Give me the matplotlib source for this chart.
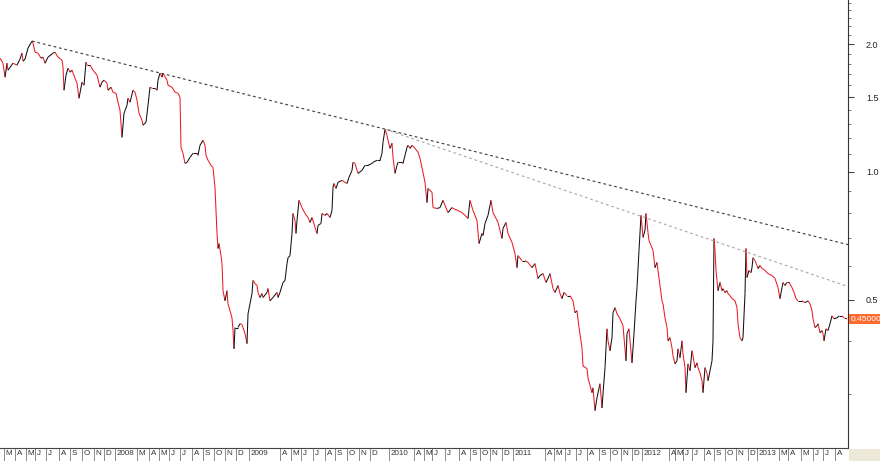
import matplotlib
matplotlib.use("Agg")
import matplotlib.pyplot as plt
from matplotlib.collections import LineCollection
from matplotlib.patches import Rectangle
import numpy as np

plt.rcParams["font.family"] = ["Liberation Sans", "DejaVu Sans"]

# bar index (trading-day axis) and close price
bar = [0, 3, 5, 7, 8, 13, 17, 20, 22, 23, 25, 28, 32, 33, 35, 38, 41, 43, 45, 48,
       53, 55, 58, 62, 63, 64, 66, 68, 70, 72, 75, 77, 79, 82, 84, 86, 87, 90, 93, 97,
       100, 102, 104, 107, 108, 111, 113, 116, 118, 120, 122, 124, 127, 128, 130, 133, 135, 137, 139, 142,
       143, 146, 148, 150, 152, 155, 157, 158, 160, 162, 163, 167, 168, 172, 175, 178, 180, 181, 183, 185,
       187, 190, 193, 197, 198, 200, 203, 205, 206, 208, 211, 213, 215, 217, 218, 219, 221, 222, 223, 225,
       227, 228, 230, 232, 233, 234, 235, 238, 240, 242, 243, 245, 247, 248, 250, 252, 253, 255, 257, 258,
       260, 262, 263, 267, 268, 270, 273, 277, 278, 280, 283, 285, 287, 288, 290, 292, 293, 295, 296, 297,
       299, 302, 305, 308, 310, 312, 315, 317, 318, 321, 322, 325, 327, 330, 332, 333, 334, 336, 338, 342,
       345, 347, 349, 352, 353, 355, 357, 358, 362, 365, 368, 372, 373, 377, 380, 382, 383, 385, 387, 388,
       390, 392, 393, 395, 397, 398, 402, 403, 405, 407, 408, 410, 412, 415, 418, 420, 423, 425, 427, 428,
       432, 433, 437, 440, 443, 445, 448, 452, 455, 458, 462, 465, 468, 470, 473, 477, 479, 482, 483, 485,
       488, 491, 493, 496, 498, 502, 503, 506, 508, 512, 515, 517, 518, 522, 525, 528, 532, 535, 538, 540,
       543, 546, 548, 550, 553, 555, 558, 560, 562, 564, 567, 570, 573, 575, 577, 579, 582, 583, 587, 588,
       592, 593, 595, 597, 600, 602, 603, 605, 607, 608, 610, 612, 613, 615, 617, 620, 623, 626, 627, 629,
       632, 634, 636, 637, 639, 641, 643, 645, 646, 648, 649, 651, 653, 655, 657, 658, 662, 663, 665, 667,
       668, 670, 672, 673, 675, 677, 678, 680, 682, 683, 685, 686, 688, 690, 692, 693, 695, 697, 698, 700,
       702, 703, 705, 707, 708, 710, 712, 713, 714, 715, 716, 717, 718, 720, 722, 723, 725, 727, 728, 730,
       732, 735, 737, 738, 740, 742, 743, 745, 746, 747, 749, 751, 752, 753, 755, 757, 758, 760, 762, 765,
       768, 772, 775, 778, 780, 782, 783, 785, 787, 789, 792, 794, 796, 798, 802, 805, 808, 810, 812, 813,
       815, 817, 818, 820, 822, 823, 824, 826, 828, 830, 832, 834, 837, 839, 842, 844, 846, 847]

close = [1.853, 1.803, 1.671, 1.803, 1.736, 1.803, 1.784, 1.843, 1.904, 1.823, 1.843, 1.957, 2.033, 2.010, 1.914, 1.904, 1.853, 1.863, 1.803, 1.863,
         1.904, 1.914, 1.863, 1.833, 1.765, 1.557, 1.690, 1.755, 1.717, 1.736, 1.662, 1.618, 1.491, 1.626, 1.600, 1.813, 1.784, 1.784, 1.736, 1.690,
         1.583, 1.626, 1.644, 1.618, 1.557, 1.583, 1.540, 1.532, 1.459, 1.397, 1.206, 1.374, 1.435, 1.491, 1.459, 1.557, 1.540, 1.475, 1.374, 1.323,
         1.288, 1.309, 1.435, 1.583, 1.574, 1.574, 1.557, 1.644, 1.708, 1.671, 1.708, 1.644, 1.600, 1.583, 1.540, 1.532, 1.499, 1.142, 1.106, 1.047,
         1.053, 1.082, 1.106, 1.106, 1.094, 1.155, 1.187, 1.155, 1.094, 1.065, 1.036, 1.025, 0.919, 0.716, 0.660, 0.678, 0.635, 0.608, 0.525, 0.497,
         0.525, 0.489, 0.471, 0.453, 0.423, 0.383, 0.430, 0.430, 0.439, 0.437, 0.430, 0.416, 0.394, 0.463, 0.489, 0.517, 0.555, 0.546, 0.540, 0.520,
         0.506, 0.517, 0.506, 0.520, 0.531, 0.497, 0.506, 0.520, 0.506, 0.520, 0.549, 0.555, 0.608, 0.628, 0.635, 0.716, 0.798, 0.768, 0.716, 0.768,
         0.857, 0.824, 0.798, 0.781, 0.760, 0.781, 0.740, 0.716, 0.748, 0.756, 0.798, 0.790, 0.798, 0.781, 0.811, 0.919, 0.939, 0.914, 0.945, 0.955,
         0.945, 0.939, 0.971, 1.008, 1.053, 1.047, 1.008, 0.992, 1.008, 1.036, 1.036, 1.047, 1.053, 1.065, 1.065, 1.106, 1.174, 1.260, 1.219, 1.187,
         1.136, 1.168, 1.082, 0.992, 1.036, 1.053, 1.053, 1.047, 1.094, 1.142, 1.155, 1.136, 1.155, 1.136, 1.112, 1.076, 0.997, 0.945, 0.847, 0.914,
         0.895, 0.824, 0.820, 0.824, 0.857, 0.834, 0.802, 0.824, 0.816, 0.811, 0.802, 0.790, 0.777, 0.857, 0.811, 0.768, 0.678, 0.716, 0.708, 0.756,
         0.790, 0.857, 0.802, 0.777, 0.760, 0.697, 0.736, 0.760, 0.716, 0.682, 0.642, 0.595, 0.635, 0.618, 0.618, 0.612, 0.595, 0.608, 0.561, 0.570,
         0.576, 0.549, 0.561, 0.576, 0.531, 0.520, 0.540, 0.517, 0.503, 0.520, 0.511, 0.511, 0.497, 0.466, 0.471, 0.430, 0.385, 0.349, 0.344, 0.327,
         0.302, 0.310, 0.274, 0.294, 0.317, 0.278, 0.300, 0.346, 0.427, 0.400, 0.379, 0.407, 0.466, 0.479, 0.463, 0.451, 0.434, 0.359, 0.416, 0.427,
         0.355, 0.416, 0.497, 0.534, 0.653, 0.790, 0.701, 0.728, 0.798, 0.720, 0.689, 0.671, 0.653, 0.595, 0.612, 0.586, 0.497, 0.489, 0.453, 0.430,
         0.400, 0.407, 0.385, 0.369, 0.353, 0.359, 0.383, 0.365, 0.400, 0.373, 0.346, 0.302, 0.353, 0.340, 0.379, 0.369, 0.346, 0.355, 0.346, 0.336,
         0.322, 0.302, 0.346, 0.335, 0.322, 0.340, 0.359, 0.400, 0.697, 0.653, 0.586, 0.555, 0.525, 0.549, 0.525, 0.531, 0.520, 0.525, 0.517, 0.511,
         0.503, 0.497, 0.479, 0.439, 0.407, 0.400, 0.407, 0.517, 0.660, 0.564, 0.586, 0.579, 0.595, 0.628, 0.618, 0.602, 0.592, 0.602, 0.592, 0.586,
         0.576, 0.570, 0.561, 0.534, 0.503, 0.534, 0.549, 0.540, 0.549, 0.549, 0.534, 0.520, 0.503, 0.497, 0.497, 0.492, 0.497, 0.489, 0.471, 0.451,
         0.430, 0.434, 0.439, 0.418, 0.423, 0.416, 0.400, 0.427, 0.423, 0.439, 0.458, 0.451, 0.453, 0.458, 0.458, 0.453, 0.453, 0.450]

# trendlines: (bar, value) end points
trend1_bar = [32, 848]
trend1_val = [2.033, 0.674]
trend2_bar = [385, 848]
trend2_val = [1.260, 0.537]

# month separators on the bar axis
month_bar = [4, 15, 26, 35, 46, 59, 70, 82, 94, 104,
             115, 137, 149, 159, 169, 180, 192, 203, 214, 225, 236,
             249, 280, 291, 301, 313, 325, 335, 347, 359, 370,
             389, 414, 424, 432, 445, 459, 470, 480, 490, 502,
             513, 545, 554, 565, 576, 587, 599, 610, 621, 632,
             642, 669, 675, 683, 692, 704, 714, 725, 736, 748,
             757, 779, 788, 801, 813, 823, 835]
month_lbl = ["M", "A", "M", "J", "J", "A", "S", "O", "N", "D",
             "2008", "M", "A", "M", "J", "J", "A", "S", "O", "N", "D",
             "2009", "A", "M", "J", "J", "A", "S", "O", "N", "D",
             "2010", "A", "M", "J", "J", "A", "S", "O", "N", "D",
             "2011", "A", "M", "J", "J", "A", "S", "O", "N", "D",
             "2012", "A", "M", "J", "J", "A", "S", "O", "N", "D",
             "2013", "M", "A", "M", "J", "J", "A"]

last_price = 0.45

fig = plt.figure(figsize=(8.8, 4.61), dpi=100)
ax = fig.add_axes([0, 13 / 461, 848 / 880, 448 / 461])

x = np.array(bar, dtype=float)
y = np.array(close)
pts = np.column_stack([x, y]).reshape(-1, 1, 2)
segs = np.concatenate([pts[:-1], pts[1:]], axis=1)
cols = ["#111111" if b >= a else "#ea1a22" for a, b in zip(y[:-1], y[1:])]
ax.add_collection(LineCollection(segs, colors=cols, linewidths=0.75))

ax.plot(trend1_bar, trend1_val, color="#3a3a3a", lw=0.8, ls=(0, (2.5, 2.5)))
ax.plot(trend2_bar, trend2_val, color="#a8a8a8", lw=0.8, ls=(0, (2.5, 2.5)))

ax.set_yscale("log")
ax.set_xlim(0, 848)
ax.set_ylim(0.2237, 2.54)

ax.yaxis.tick_right()
ax.set_yticks([0.5, 1.0, 1.5, 2.0])
ax.set_yticklabels(["0.5", "1.0", "1.5", "2.0"])
minor = [0.3, 0.4, 0.6, 0.7, 0.8, 0.9, 1.1, 1.2, 1.3, 1.4, 1.6, 1.7, 1.8, 1.9, 2.1, 2.2, 2.3, 2.4, 2.5]
ax.set_yticks(minor, minor=True)
ax.yaxis.set_minor_formatter(plt.NullFormatter())
ax.tick_params(axis="y", which="major", length=4, width=0.8, color="#444444",
               pad=9, labelsize=6.5, labelcolor="#222222")
ax.tick_params(axis="y", which="minor", length=2.5, width=0.6, color="#666666")

ax.set_xticks(month_bar)
ax.set_xticklabels([])
ax.tick_params(axis="x", which="major", direction="out", length=9, width=0.6, color="#777777")
for b, lbl in zip(month_bar, month_lbl):
    ax.text(b + 1.5, -0.005, lbl, transform=ax.get_xaxis_transform(),
            ha="left", va="top", fontsize=5.8, color="#333333")

for side in ["left", "top"]:
    ax.spines[side].set_visible(False)
ax.spines["right"].set_color("#333333")
ax.spines["bottom"].set_color("#444444")
ax.spines["right"].set_linewidth(0.8)
ax.spines["bottom"].set_linewidth(0.8)

ax.text(1.003, last_price, "%.5f" % last_price, transform=ax.get_yaxis_transform(),
        ha="left", va="center", fontsize=6, color="white",
        bbox=dict(boxstyle="square,pad=0.2", fc="#ff6a2e", ec="none"))

fig.patches.append(Rectangle((849 / 880, 0), 31 / 880, 12 / 461, transform=fig.transFigure,
                             fc="#ece9d8", ec="none"))

fig.savefig("out.png", dpi=100)
plt.close(fig)
